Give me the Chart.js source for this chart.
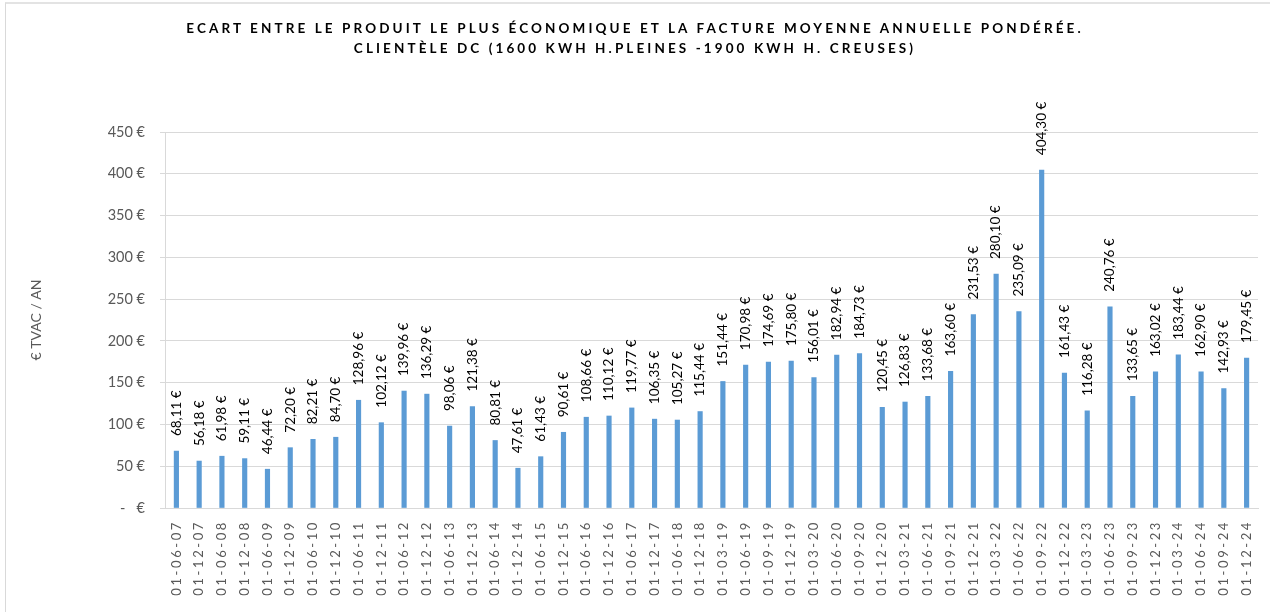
<!DOCTYPE html>
<html>
<head>
<meta charset="utf-8">
<script src="https://cdn.jsdelivr.net/npm/chart.js@4"></script>
<style>
  html, body { margin: 0; padding: 0; background: #fff; }
  #wrap { position: relative; width: 1270px; height: 612px; overflow: hidden; }
  #frame { position: absolute; left: 5px; top: 2px; width: 1300px; height: 700px;
           border-left: 1px solid #d9d9d9; border-top: 2px solid #e3e3e3; }
  #title { position: absolute; left: 0; top: 18px; width: 1270px; text-align: center;
           font: bold 13.5px Lato, sans-serif; letter-spacing: 3.1px; line-height: 20px; color: #000; }
  canvas { position: absolute; left: 0; top: 0; }
</style>
</head>
<body>
<div id="wrap">
  <div id="frame"></div>
  <canvas id="chart" width="1270" height="612"></canvas>
  <div id="title">ECART ENTRE LE PRODUIT LE PLUS ÉCONOMIQUE ET LA FACTURE MOYENNE ANNUELLE PONDÉRÉE.<br>CLIENTÈLE DC (1600 KWH H.PLEINES -1900 KWH H. CREUSES)</div>
</div>
<script>
// dates des relevés
const dates = [
  "01-06-07", "01-12-07", "01-06-08", "01-12-08", "01-06-09", "01-12-09",
  "01-06-10", "01-12-10", "01-06-11", "01-12-11", "01-06-12", "01-12-12",
  "01-06-13", "01-12-13", "01-06-14", "01-12-14", "01-06-15", "01-12-15",
  "01-06-16", "01-12-16", "01-06-17", "01-12-17", "01-06-18", "01-12-18",
  "01-03-19", "01-06-19", "01-09-19", "01-12-19", "01-03-20", "01-06-20",
  "01-09-20", "01-12-20", "01-03-21", "01-06-21", "01-09-21", "01-12-21",
  "01-03-22", "01-06-22", "01-09-22", "01-12-22", "01-03-23", "01-06-23",
  "01-09-23", "01-12-23", "01-03-24", "01-06-24", "01-09-24", "01-12-24"
];

// écart en € TVAC / an
const ecart = [
  68.11, 56.18, 61.98, 59.11, 46.44, 72.20, 82.21, 84.70, 128.96, 102.12,
  139.96, 136.29, 98.06, 121.38, 80.81, 47.61, 61.43, 90.61, 108.66, 110.12,
  119.77, 106.35, 105.27, 115.44, 151.44, 170.98, 174.69, 175.80, 156.01, 182.94,
  184.73, 120.45, 126.83, 133.68, 163.60, 231.53, 280.10, 235.09, 404.30, 161.43,
  116.28, 240.76, 133.65, 163.02, 183.44, 162.90, 142.93, 179.45
];

const yMax = 450;
const yStep = 50;

const euro = v => v.toFixed(2).replace('.', ',') + ' €';

// étiquettes de valeur verticales au-dessus des barres
const valueLabels = {
  id: 'valueLabels',
  afterDatasetsDraw(chart) {
    const ctx = chart.ctx;
    const meta = chart.getDatasetMeta(0);
    ctx.save();
    ctx.font = '13.5px Lato, sans-serif';
    ctx.fillStyle = '#000';
    ctx.textAlign = 'left';
    ctx.textBaseline = 'middle';
    meta.data.forEach((bar, i) => {
      ctx.save();
      ctx.translate(bar.x, bar.y - 15);
      ctx.rotate(-Math.PI / 2);
      ctx.fillText(euro(ecart[i]), 0, 0);
      ctx.restore();
    });
    ctx.restore();
  }
};

// libellés de l'axe x, verticaux et espacés
const dateLabels = {
  id: 'dateLabels',
  afterDraw(chart) {
    const ctx = chart.ctx;
    const x = chart.scales.x;
    ctx.save();
    ctx.font = '13px Lato, sans-serif';
    ctx.letterSpacing = '2.6px';
    ctx.fillStyle = '#595959';
    ctx.textAlign = 'right';
    ctx.textBaseline = 'middle';
    dates.forEach((d, i) => {
      ctx.save();
      ctx.translate(x.getPixelForValue(i), x.top + 12);
      ctx.rotate(-Math.PI / 2);
      ctx.fillText(d, 0, 0);
      ctx.restore();
    });
    ctx.restore();
  }
};

new Chart(document.getElementById('chart'), {
  type: 'bar',
  data: {
    labels: dates,
    datasets: [{
      data: ecart,
      backgroundColor: '#5b9bd5',
      barThickness: 4.5
    }]
  },
  options: {
    responsive: false,
    animation: false,
    events: [],
    layout: { padding: { top: 132, left: 20, right: 12, bottom: 0 } },
    plugins: { legend: { display: false }, tooltip: { enabled: false } },
    scales: {
      x: {
        grid: { display: false },
        border: { color: '#d9d9d9' },
        ticks: { display: false },
        afterFit: s => { s.height = 104; }
      },
      y: {
        min: 0,
        max: yMax,
        ticks: {
          stepSize: yStep,
          padding: 15,
          color: '#595959',
          font: { family: 'Lato, sans-serif', size: 14.5 },
          callback: v => v === 0 ? '-   €' : v + ' €'
        },
        grid: { color: '#d9d9d9', tickLength: 5 },
        border: { color: '#d9d9d9' },
        title: {
          display: true,
          text: '€ TVAC / AN',
          color: '#595959',
          font: { family: 'Lato, sans-serif', size: 14 },
          padding: { top: 8, bottom: 0 }
        },
        afterFit: s => { s.width = 145; }
      }
    }
  },
  plugins: [valueLabels, dateLabels]
});
</script>
</body>
</html>
